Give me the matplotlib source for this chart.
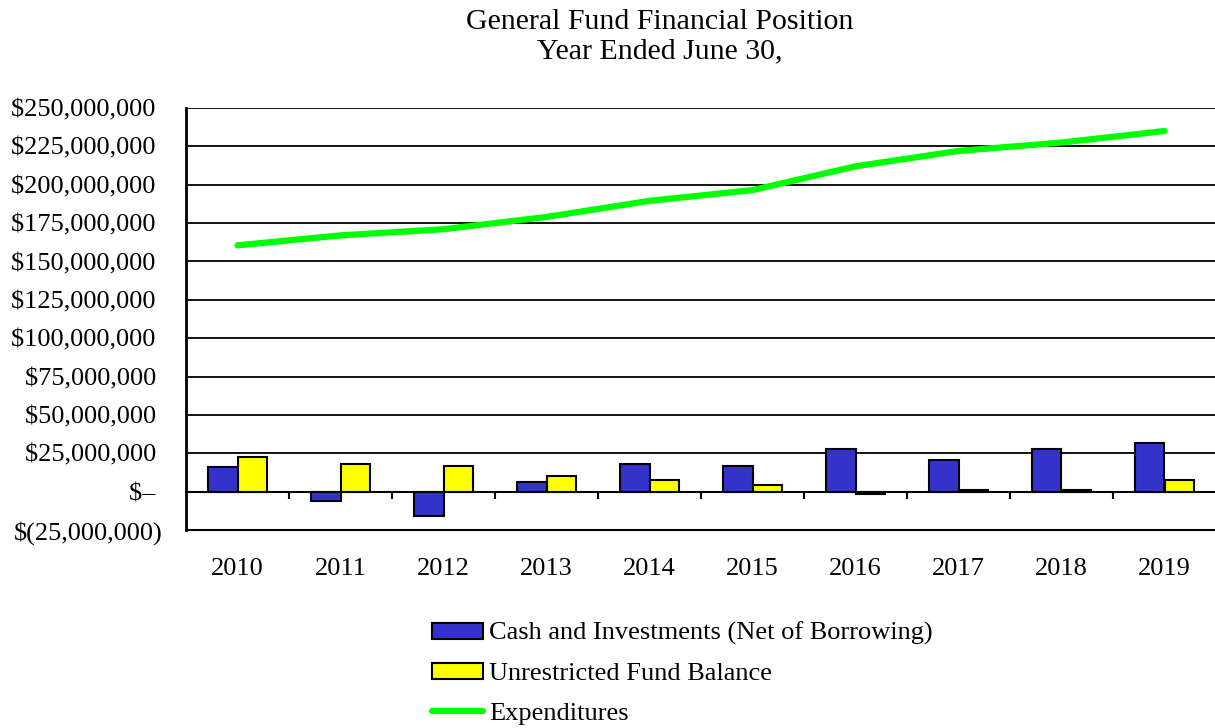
import matplotlib
matplotlib.use("Agg")
import matplotlib.pyplot as plt
import numpy as np
from matplotlib.ticker import FuncFormatter, FixedLocator

# data
years = ["2010", "2011", "2012", "2013", "2014", "2015", "2016", "2017", "2018", "2019"]
cash = [16.2, -5.8, -16.2, 6.3, 18.0, 16.4, 28.0, 20.3, 28.0, 32.0]          # $ millions
unrestricted = [22.7, 18.0, 16.4, 9.9, 7.3, 4.5, -1.5, 1.0, 1.0, 7.3]        # $ millions
expenditures = [160.5, 167.0, 171.0, 179.0, 189.5, 196.5, 212.0, 222.0, 227.5, 235.0]  # $ millions

plt.rcParams['font.family'] = ['Liberation Serif', 'DejaVu Serif']
FS = 19

fig = plt.figure(figsize=(12.15, 7.28), dpi=100)
ax = fig.add_axes([186 / 1215, 1 - 530 / 728, 1030 / 1215, 422 / 728])

x = np.arange(len(years))
w = 0.286
b1 = ax.bar(x - w / 2, np.array(cash) * 1e6, w, color='#3333CC', edgecolor='black',
            linewidth=1.5, label='Cash and Investments (Net of Borrowing)', zorder=3)
b2 = ax.bar(x + w / 2, np.array(unrestricted) * 1e6, w, color='#FFFF00', edgecolor='black',
            linewidth=1.5, label='Unrestricted Fund Balance', zorder=3)
ln, = ax.plot(x, np.array(expenditures) * 1e6, color='#00FF00', linewidth=4.5,
              solid_capstyle='round', solid_joinstyle='round', label='Expenditures', zorder=4)

ax.set_xlim(-0.5, 9.5)
ax.set_ylim(-25e6, 250e6)
ax.yaxis.set_major_locator(FixedLocator(np.arange(-25e6, 250e6 + 1, 25e6)))


def money(v, pos):
    if abs(v) < 1:
        return "$\u2013 "
    if v < 0:
        return "$({:,.0f})".format(-v)
    return "${:,.0f} ".format(v)


ax.yaxis.set_major_formatter(FuncFormatter(money))
ax.tick_params(axis='y', length=0, pad=17, labelsize=FS)
ax.grid(axis='y', color='black', linewidth=1.3, zorder=1)
ax.set_axisbelow(True)

ax.set_xticks(x)
ax.set_xticklabels(years)
ax.tick_params(axis='x', length=0, pad=20, labelsize=FS)

for side in ['top', 'right']:
    ax.spines[side].set_visible(False)
ax.spines['left'].set_linewidth(2)
ax.spines['bottom'].set_linewidth(1.5)

# zero line with category-boundary ticks
sec = ax.secondary_xaxis(25 / 275)
sec.set_xticks(np.arange(0.5, 9.5, 1.0))
sec.set_xticklabels([])
sec.tick_params(axis='x', length=5, width=1.5, direction='out')
sec.spines['bottom'].set_linewidth(1.5)

fig.text(660 / 1215, 1 - 22 / 728, "General Fund Financial Position", ha='center', va='center', fontsize=21.5)
fig.text(660 / 1215, 1 - 51 / 728, "Year Ended June 30,", ha='center', va='center', fontsize=21.5)

fig.legend(handles=[b1, b2, ln], loc='upper left', bbox_to_anchor=(432 / 1215, 1 - 622 / 728),
           frameon=False, fontsize=FS, handlelength=1.95, handleheight=0.57, handletextpad=0.22,
           labelspacing=0.66, borderpad=0, borderaxespad=0)

fig.savefig("out.png", dpi=100)
